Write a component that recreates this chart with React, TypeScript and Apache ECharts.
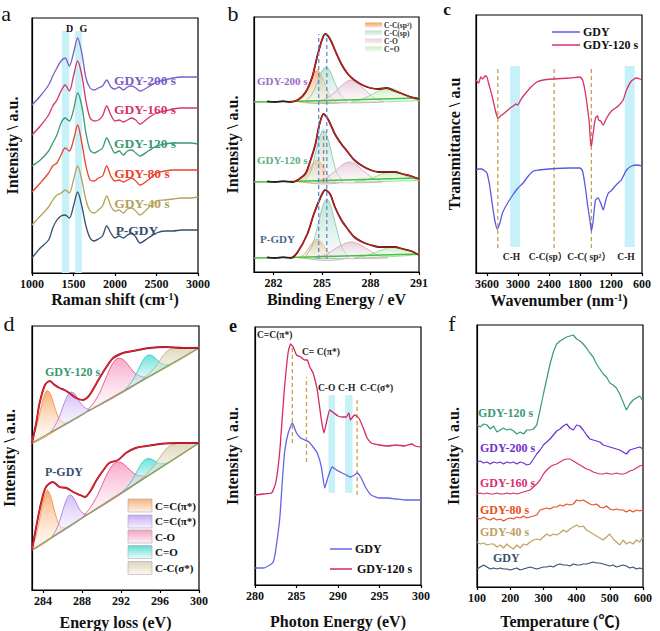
import React, { useEffect, useRef } from "react";
import * as echarts from "echarts";

const FONT = '"Liberation Serif", "Times New Roman", "Noto Sans CJK SC", serif';

// ---------------- Panel a : Raman ----------------
const ramanShift = [1000, 1100, 1200, 1250, 1300, 1350, 1400, 1450, 1500, 1550, 1600, 1650, 1700, 1750, 1800, 1850, 1900, 1950, 2000, 2050, 2100, 2150, 2200, 2250, 2300, 2400, 2500, 2600, 2700, 2800, 2900, 3000];
const ramanPGDY = [15, 25, 33, 45, 53, 57, 58, 55, 67, 81, 67, 47, 35, 32, 34, 37, 47, 40, 35, 37, 35, 38, 40, 36, 30, 35, 40, 42, 42, 43, 43, 43];
const raman40 = [48, 57, 66, 73, 78, 80, 83, 80, 93, 107, 93, 73, 62, 60, 63, 67, 77, 67, 62, 63, 60, 64, 65, 62, 58, 65, 72, 73, 74, 75, 75, 76];
const raman80 = [81, 90, 100, 107, 110, 118, 125, 122, 133, 148, 130, 107, 93, 92, 95, 97, 107, 97, 92, 93, 91, 93, 95, 92, 88, 93, 100, 102, 103, 103, 103, 103];
const raman120 = [107, 113, 122, 130, 138, 150, 155, 152, 163, 180, 167, 140, 123, 120, 122, 125, 135, 127, 120, 122, 118, 122, 123, 120, 117, 122, 127, 129, 130, 130, 130, 129];
const raman160 = [138, 147, 158, 167, 173, 182, 188, 182, 197, 212, 198, 172, 155, 152, 153, 157, 167, 158, 152, 153, 151, 153, 155, 153, 149, 155, 160, 162, 164, 165, 165, 165];
const raman200 = [168, 177, 188, 197, 205, 212, 215, 207, 220, 235, 220, 195, 185, 183, 185, 187, 193, 186, 184, 186, 183, 186, 187, 185, 182, 186, 191, 193, 195, 196, 196, 196];
const ramanBands = [[1360, 1450, 0, 242], [1520, 1600, 0, 242]];
const ramanTicks = [1000, 1500, 2000, 2500, 3000];

// ---------------- Panel b : XPS C1s ----------------
const bTicks = [282, 285, 288, 291];
const bOffsets = [170, 90, 14];
const bSp2 = [
  [[283.57, 0], [283.9, 6], [284.25, 20], [284.48, 28], [284.7, 32], [284.92, 28], [285.15, 20], [285.5, 6], [285.83, 0]],
  [[283.57, 0], [283.9, 4], [284.25, 13.4], [284.48, 19.4], [284.7, 22], [284.92, 19.4], [285.15, 13.4], [285.5, 4], [285.83, 0]],
  [[283.57, 0], [283.9, 3.6], [284.25, 11.6], [284.48, 16.7], [284.7, 19], [284.92, 16.7], [285.15, 11.6], [285.5, 3.6], [285.83, 0]],
];
const bSp = [
  [[284.0, 0], [284.35, 7], [284.75, 21], [285.0, 31], [285.25, 35], [285.5, 31], [285.75, 21], [286.15, 7], [286.5, 0]],
  [[283.97, 0], [284.3, 10], [284.65, 32], [284.88, 46], [285.1, 52], [285.32, 46], [285.55, 32], [285.9, 10], [286.23, 0]],
  [[284.05, 0], [284.4, 12], [284.8, 36], [285.05, 52], [285.3, 59], [285.55, 52], [285.8, 36], [286.2, 12], [286.55, 0]],
];
const bCO = [
  [[284.8, 0], [285.36, 4], [286.0, 13], [286.4, 19], [286.8, 22], [287.2, 19], [287.6, 13], [288.24, 4], [288.8, 0]],
  [[284.7, 0], [285.26, 4], [285.9, 12], [286.3, 17.6], [286.7, 20], [287.1, 17.6], [287.5, 12], [288.14, 4], [288.7, 0]],
  [[284.55, 0], [285.2, 3], [285.9, 10], [286.35, 14], [286.8, 16], [287.25, 14], [287.7, 10], [288.4, 3], [289.05, 0]],
];
const bCdO = [
  [[286.85, 0], [287.5, 3], [288.2, 8.5], [288.65, 12.3], [289.1, 14], [289.55, 12.3], [290.0, 8.5], [290.7, 3], [291, 1.5]],
  [[287.05, 0], [287.7, 2], [288.4, 6], [288.85, 8.8], [289.3, 10], [289.75, 8.8], [290.2, 6], [290.9, 2], [291, 1.6]],
  [[287.0, 0], [287.7, 2.2], [288.5, 6.7], [289.0, 9.7], [289.5, 11], [290.0, 9.7], [290.5, 6.7], [291, 3.5]],
];
const bEnv = [
  [[283.0, 0], [283.5, 2], [284.0, 10], [284.4, 25], [284.7, 45], [285.0, 62], [285.2, 68], [285.5, 63], [285.8, 52], [286.2, 38], [286.6, 28], [287.0, 22], [287.5, 17], [288.0, 14], [288.5, 13], [289.0, 14], [289.5, 11], [290.0, 8], [290.5, 5], [291, 3]],
  [[283.2, 0], [283.6, 3], [284.0, 9], [284.3, 22], [284.6, 38], [284.85, 58], [285.1, 68], [285.4, 62], [285.8, 48], [286.2, 38], [286.5, 32], [287.0, 22], [287.5, 16], [288.0, 12], [288.5, 10], [289.0, 10], [289.5, 10], [290.0, 8], [290.5, 6], [291, 3]],
  [[283.1, 0], [283.5, 6], [284.1, 24], [284.5, 44], [284.9, 60], [285.2, 68], [285.5, 64], [285.8, 51], [286.2, 38], [286.5, 31], [287.0, 21], [287.5, 16], [288.0, 13], [288.5, 11], [289.0, 11], [289.5, 11], [290.0, 9], [290.5, 7], [291, 3]],
];
const bRawLead = [[281.6, 0.6], [282.1, 0], [282.6, 0.8]];
const bBase = [[280.8, 0], [283.0, 0.5], [291, 4]];
const bDashBlue = [[284.8, 13, 238], [285.3, 13, 238]];
const bDashRed = [[285.1, 90, 140]];

// ---------------- Panel c : FTIR ----------------
const cTicks = [3600, 3000, 2400, 1800, 1200, 600];
const irGDY120 = [[3810, 193], [3760, 190], [3720, 196], [3680, 194], [3640, 197], [3600, 196], [3570, 190], [3500, 177], [3440, 163], [3400, 156], [3375, 155], [3340, 157], [3310, 158], [3215, 162], [3150, 165], [3090, 167], [3040, 169], [3010, 168], [2925, 175], [2765, 185], [2635, 191], [2510, 193], [2315, 194], [1995, 195], [1800, 196], [1750, 193], [1705, 183], [1660, 167], [1620, 150], [1590, 127], [1575, 128], [1545, 140], [1500, 155], [1460, 157], [1440, 153], [1400, 152], [1350, 148], [1285, 155], [1190, 162], [1060, 167], [965, 173], [900, 183], [805, 192], [710, 195], [640, 194], [600, 193]];
const irGDY = [[3810, 103], [3760, 104], [3700, 104], [3640, 102], [3600, 100], [3550, 88], [3500, 70], [3450, 53], [3400, 44], [3350, 50], [3300, 60], [3200, 70], [3100, 78], [3000, 85], [2900, 90], [2800, 97], [2700, 102], [2600, 103], [2400, 104], [2000, 105], [1800, 105], [1750, 102], [1700, 87], [1650, 67], [1600, 50], [1580, 42], [1550, 50], [1500, 73], [1450, 75], [1400, 70], [1350, 63], [1300, 73], [1250, 80], [1200, 82], [1100, 88], [1000, 93], [900, 103], [800, 107], [700, 108], [600, 107]];
const irDash = [[3390, 25, 205], [2300, 25, 205], [1580, 25, 205]];
const irBands = [[2960, 3150, 26, 207], [740, 935, 26, 207]];

// ---------------- Panel d : EELS ----------------
const dTicks = [284, 288, 292, 296, 300];
const dBase1 = [[282.87, 147], [300, 242]];
const dEnv1 = [[282.87, 147], [283.3, 167], [283.65, 187], [284.2, 205], [284.7, 209], [285.2, 205], [285.7, 202], [286.2, 200], [286.7, 197], [287.4, 192], [288.1, 190], [288.6, 193], [289.1, 200], [289.8, 212], [290.5, 223], [291.2, 232], [292.2, 237], [293.2, 239], [294.9, 242], [296.6, 243], [298.4, 242], [300, 242]];
const dOrange1 = [[282.87, 147], [283.3, 162.2], [283.7, 178.3], [284.05, 192.3], [284.4, 199.5], [284.75, 196.2], [285.1, 186.1], [285.45, 175.5], [285.8, 169.2], [286.15, 167], [286.5, 167.1]];
const dPurple1 = [[284.8, 157.7], [285.2, 163.8], [285.6, 171.5], [286.0, 182], [286.4, 192.2], [286.8, 197.8], [287.2, 196.6], [287.6, 190.8], [288.0, 184.9], [288.4, 181.6], [288.8, 179.9]];
const dCO1 = [[288.6, 178.8], [289.2, 187.1], [289.8, 197], [290.4, 210.8], [291.0, 223.9], [291.6, 231.4], [292.2, 230.5], [292.8, 224.1], [293.4, 217], [294.0, 213.7], [294.6, 212.1]];
const dCdO1 = [[292.45, 200.1], [292.9, 205.6], [293.35, 212.1], [293.8, 221], [294.25, 229.5], [294.7, 234.6], [295.15, 234.5], [295.6, 231], [296.05, 227.1], [296.5, 225.6], [296.95, 225.1]];
const dSig1 = [[294.0, 208.7], [295.0, 217.3], [295.8, 226.7], [296.5, 236.6], [297.2, 241.5], [298.0, 242], [299.0, 242.5], [300, 242]];
const dBase2 = [[282.87, 40], [300, 147]];
const dEnv2 = [[282.87, 40], [283.3, 63], [283.8, 87], [284.3, 103], [285.0, 108], [285.7, 103], [286.4, 102], [287.1, 98], [287.8, 95], [288.3, 93], [288.8, 98], [289.5, 110], [290.2, 120], [290.8, 127], [291.7, 130], [292.5, 137], [293.5, 142], [294.6, 144], [296.0, 146], [297.7, 147], [300, 147]];
const dOrange2 = [[282.87, 40], [283.25, 52.8], [283.6, 68.1], [283.95, 86.2], [284.4, 99.6], [284.75, 94.8], [285.1, 82], [285.45, 70.1], [285.8, 63.4], [286.2, 61.9], [286.5, 62.8]];
const dPurple2 = [[284.95, 53], [285.3, 59.4], [285.65, 67.4], [286.0, 78.4], [286.35, 89], [286.7, 94.9], [287.05, 93.4], [287.4, 87.2], [287.75, 80.5], [288.1, 76.9], [288.45, 74.9]];
const dCO2 = [[288.15, 73], [288.8, 81.6], [289.45, 92.1], [290.1, 105.9], [290.75, 119.2], [291.4, 127.3], [292.05, 127.3], [292.7, 122.1], [293.35, 116.5], [294.0, 114.1], [294.65, 113.6]];
const dCdO2 = [[292.25, 98.6], [292.7, 103.9], [293.15, 110], [293.6, 118], [294.05, 125.6], [294.5, 130.6], [294.95, 131.3], [295.4, 129.3], [295.85, 126.9], [296.3, 126.4], [296.75, 126.7]];
const dSig2 = [[293.5, 106.4], [294.5, 114.6], [295.5, 125.9], [296.3, 136.9], [297.0, 144.2], [297.8, 146.5], [298.7, 147.5], [299.4, 147], [300, 147]];

// ---------------- Panel e : NEXAFS ----------------
const eTicks = [280, 285, 290, 295, 300];
const eGDY120 = [[280, 90], [281, 91], [282, 92], [282.5, 102], [283, 135], [283.5, 192], [284, 233], [284.3, 241], [284.6, 238], [285, 230], [285.5, 228], [286, 225], [286.3, 225], [286.6, 218], [287, 212], [287.5, 195], [288, 165], [288.3, 152], [288.6, 162], [289, 175], [289.5, 172], [290, 169], [290.5, 168], [291, 168], [291.3, 172], [291.5, 165], [292, 170], [292.5, 167], [293, 158], [293.5, 147], [294, 142], [295, 140], [296, 139], [297, 140], [298, 139], [298.9, 141], [299.3, 139], [300, 138]];
const eGDY = [[280, 17], [281, 17], [281.8, 20], [282.2, 23], [282.5, 35], [283, 68], [283.3, 105], [283.6, 135], [284, 152], [284.5, 162], [285, 152], [285.5, 147], [286, 145], [286.5, 143], [287, 138], [287.5, 132], [288, 118], [288.4, 97], [288.8, 108], [289.3, 118], [289.8, 115], [290.5, 112], [291, 110], [291.5, 108], [292, 110], [292.3, 112], [292.8, 107], [293.3, 98], [294, 90], [295, 87], [296, 87], [297, 86], [298, 85], [299, 85], [300, 85]];
const eDash = [[284.5, 142, 238], [286.2, 123, 208], [292.3, 90, 188]];
const eBands = [[288.85, 289.65, 92, 190], [290.85, 291.75, 92, 190]];

// ---------------- Panel f : TPD ----------------
const fTicks = [100, 200, 300, 400, 500, 600];
const fTemp = [100, 110, 120, 130, 140, 150, 160, 170, 180, 190, 200, 210, 220, 230, 240, 250, 260, 270, 280, 290, 300, 310, 320, 330, 340, 350, 360, 370, 380, 390, 400, 410, 420, 430, 440, 450, 460, 470, 480, 490, 500, 510, 520, 530, 540, 550, 560, 570, 580, 590, 600];
const fGDY120 = [162, 160, 163, 162, 158, 161, 155, 157, 159, 157, 158, 156, 153, 155, 153, 157, 157, 158, 162, 177, 193, 208, 223, 235, 243, 246, 248, 250, 251, 252, 248, 246, 243, 239, 234, 230, 223, 218, 213, 210, 204, 202, 199, 193, 185, 177, 183, 187, 189, 191, 186];
const fGDY200 = [125, 126, 124, 125, 123, 125, 124, 125, 123, 125, 124, 125, 123, 125, 124, 122, 123, 128, 133, 137, 142, 145, 148, 152, 156, 158, 161, 163, 159, 157, 162, 161, 157, 152, 148, 147, 146, 145, 142, 141, 140, 139, 138, 137, 135, 133, 137, 138, 139, 140, 138];
const fGDY160 = [93, 94, 93, 94, 93, 93, 94, 93, 93, 94, 93, 94, 93, 94, 95, 96, 97, 100, 103, 107, 113, 117, 120, 122, 123, 125, 127, 128, 128, 126, 124, 122, 120, 118, 117, 115, 114, 113, 113, 114, 113, 113, 114, 113, 113, 114, 116, 117, 119, 121, 122];
const fGDY80 = [69, 68, 70, 68, 67, 69, 67, 68, 66, 68, 69, 68, 70, 69, 71, 69, 70, 71, 72, 77, 78, 79, 78, 80, 80, 82, 81, 83, 82, 83, 87, 86, 87, 85, 83, 82, 83, 80, 79, 81, 78, 77, 78, 77, 77, 75, 77, 75, 77, 76, 77];
const fGDY40 = [45, 43, 44, 42, 43, 43, 40, 42, 39, 43, 40, 38, 42, 39, 43, 42, 45, 47, 48, 47, 50, 53, 51, 53, 52, 54, 57, 55, 58, 60, 62, 60, 61, 57, 55, 53, 51, 49, 47, 50, 53, 48, 45, 42, 47, 43, 45, 43, 47, 45, 50];
const fGDY = [18, 20, 22, 20, 18, 19, 18, 19, 18, 18, 17, 18, 19, 17, 18, 19, 20, 19, 18, 19, 20, 20, 21, 20, 22, 23, 22, 22, 21, 23, 22, 22, 23, 23, 24, 25, 24, 24, 23, 22, 21, 22, 20, 21, 22, 21, 19, 20, 18, 19, 18];

// ---------------- layout (pixels) ----------------
const GRIDS = [
  { left: 32, top: 18, width: 166, height: 255 },
  { left: 254, top: 17, width: 165, height: 255 },
  { left: 476, top: 15, width: 166, height: 258 },
  { left: 32, top: 326, width: 167, height: 264 },
  { left: 255, top: 327, width: 166, height: 258 },
  { left: 477, top: 325, width: 166, height: 262 },
];

const axisText = { fontFamily: FONT, fontWeight: "bold", color: "#111" };
const supRich = { s: { fontFamily: FONT, fontWeight: "bold", fontSize: 10, color: "#111", verticalAlign: "top", lineHeight: 16 } };

function xAxis(gi: number, min: number, max: number, name: string, nameGap: number, ticks: number[], inverse = false) {
  return {
    type: "value", gridIndex: gi, min, max, inverse, name, nameLocation: "middle", nameGap,
    nameTextStyle: { ...axisText, fontSize: 16, rich: supRich },
    axisLine: { show: true, onZero: false, lineStyle: { color: "#000", width: 1.2 } },
    axisTick: { show: true, customValues: ticks, length: 3, inside: false, lineStyle: { color: "#000", width: 1.2 } },
    axisLabel: { show: true, customValues: ticks, ...axisText, fontSize: 12, margin: 5, formatter: (v: number) => String(v) },
    splitLine: { show: false },
  };
}
function yAxis(gi: number, max: number, name: string, nameGap: number) {
  return {
    type: "value", gridIndex: gi, min: 0, max, name, nameLocation: "middle", nameGap, nameRotate: 90,
    nameTextStyle: { ...axisText, fontSize: 16 },
    axisLine: { show: true, onZero: false, lineStyle: { color: "#000", width: 1.2 } },
    axisTick: { show: false }, axisLabel: { show: false }, splitLine: { show: false },
  };
}
function line(gi: number, data: any[], color: string, width: number, extra: any = {}) {
  const { dashed, ...rest } = extra;
  return {
    type: "line", xAxisIndex: gi, yAxisIndex: gi, data, symbol: "none", showSymbol: false, silent: true, z: 3,
    lineStyle: { color, width, type: dashed ? [4, 3] : "solid" }, itemStyle: { color }, ...rest,
  };
}
function bands(gi: number, data: number[][], color: string) {
  return {
    type: "custom", xAxisIndex: gi, yAxisIndex: gi, data, encode: { x: [0, 1], y: [2, 3] }, silent: true, z: 1,
    renderItem: (p: any, api: any) => {
      const a = api.coord([api.value(0), api.value(3)]);
      const b = api.coord([api.value(1), api.value(2)]);
      return { type: "rect", shape: { x: Math.min(a[0], b[0]), y: Math.min(a[1], b[1]), width: Math.abs(b[0] - a[0]), height: Math.abs(b[1] - a[1]) }, style: { fill: color } };
    },
  };
}
function poly(gi: number, data: number[][], top: string, bottom: string, stroke: string) {
  return {
    type: "custom", xAxisIndex: gi, yAxisIndex: gi, data, encode: { x: 0, y: 1 }, silent: true, z: 2,
    renderItem: (p: any, api: any) => {
      if (p.dataIndexInside !== 0) return null;
      const points: number[][] = [];
      for (let i = 0; i < p.dataInsideLength; i++) points.push(api.coord([api.value(0, i), api.value(1, i)]));
      return {
        type: "polygon", shape: { points, smooth: 0.35 },
        style: { fill: new echarts.graphic.LinearGradient(0, 0, 0, 1, [{ offset: 0, color: top }, { offset: 1, color: bottom }]), stroke, lineWidth: 0.8 },
      };
    },
  };
}
function vlines(gi: number, rows: number[][], color: string) {
  return rows.map(([x, y0, y1]) => line(gi, [[x, y0], [x, y1]], color, 1.3, { dashed: true }));
}
function T(x: number, y: number, text: string, size: number, color = "#111", align = "left", weight = "bold") {
  return {
    type: "text", x, y, silent: true, z: 50,
    style: { text, fill: color, fontSize: size, fontWeight: weight, fontFamily: FONT, align, verticalAlign: "middle", textAlign: align, textVerticalAlign: "middle" },
  };
}
function L(x1: number, y1: number, x2: number, y2: number, color: string, w = 1.5) {
  return { type: "line", silent: true, z: 50, shape: { x1, y1, x2, y2 }, style: { stroke: color, lineWidth: w } };
}
function patch(x: number, y: number, w: number, h: number, top: string, bottom: string, stroke = "none") {
  return {
    type: "rect", silent: true, z: 50, shape: { x, y, width: w, height: h },
    style: { fill: new echarts.graphic.LinearGradient(0, 0, 0, 1, [{ offset: 0, color: top }, { offset: 1, color: bottom }]), stroke, lineWidth: 0.6 },
  };
}
const pair = (xs: number[], ys: number[]) => xs.map((x, i) => [x, ys[i]]);
const shift = (pts: number[][], off: number) => pts.map(([x, y]) => [x, y + off]);

function buildOption() {
  const series: any[] = [];
  // a
  series.push(bands(0, ramanBands, "#c6f1f8"));
  const ramanSets: [number[], string][] = [[ramanPGDY, "#34506e"], [raman40, "#b5a15a"], [raman80, "#e8452c"], [raman120, "#3a9a70"], [raman160, "#d6336c"], [raman200, "#7b5ec6"]];
  ramanSets.forEach(([ys, c]) => series.push(line(0, pair(ramanShift, ys), c, 1.3, { smooth: 0.3 })));

  // b
  bOffsets.forEach((off, s) => {
    series.push(poly(1, shift(bSp2[s], off), "rgba(247,160,90,0.8)", "rgba(253,232,210,0.3)", "#f0a050"));
    series.push(poly(1, shift(bSp[s], off), "rgba(150,210,190,0.65)", "rgba(230,245,240,0.3)", "#7cc4ac"));
    series.push(poly(1, shift(bCO[s], off), "rgba(220,180,200,0.65)", "rgba(248,235,240,0.3)", "#d0a0b8"));
    series.push(poly(1, shift(bCdO[s], off), "rgba(170,230,160,0.65)", "rgba(235,250,232,0.3)", "#8ad882"));
    series.push(line(1, shift(bBase, off), "#44c044", 1.6));
    series.push(line(1, shift([...bRawLead, ...bEnv[s]], off), "#222", 1.8, { smooth: 0.3 }));
    series.push(line(1, shift(bEnv[s], off), "#e01818", 1.2, { smooth: 0.3 }));
  });
  series.push(...vlines(1, bDashBlue, "#5a8ec8"));
  series.push(...vlines(1, bDashRed, "#e06060"));

  // c
  series.push(bands(2, irBands, "#c6f1f8"));
  series.push(...vlines(2, irDash, "#c8a050"));
  series.push(line(2, irGDY, "#5a5ae0", 1.3, { smooth: 0.2 }));
  series.push(line(2, irGDY120, "#d83068", 1.3, { smooth: 0.2 }));

  // d
  const dSets = [
    { base: dBase1, env: dEnv1, comps: [dOrange1, dPurple1, dCO1, dCdO1, dSig1] },
    { base: dBase2, env: dEnv2, comps: [dOrange2, dPurple2, dCO2, dCdO2, dSig2] },
  ];
  const dStyles = [
    ["rgba(247,160,90,0.85)", "rgba(255,240,225,0.3)", "#f08a3c"],
    ["rgba(200,170,245,0.8)", "rgba(245,238,255,0.3)", "#a070e0"],
    ["rgba(245,140,185,0.75)", "rgba(255,235,245,0.3)", "#e8407e"],
    ["rgba(70,220,210,0.8)", "rgba(225,250,250,0.3)", "#20c8c0"],
    ["rgba(215,205,170,0.8)", "rgba(245,242,230,0.3)", "#b8a878"],
  ];
  dSets.forEach((set) => {
    set.comps.forEach((c, k) => series.push(poly(3, c, dStyles[k][0], dStyles[k][1], dStyles[k][2])));
    series.push(line(3, set.base, "#8aa05a", 1.4));
    series.push(line(3, set.env, "#8a1818", 1.9, { smooth: 0.3 }));
    series.push(line(3, set.env, "#e8203a", 1.2, { smooth: 0.3 }));
  });

  // e
  series.push(bands(4, eBands, "#c6f1f8"));
  series.push(...vlines(4, eDash, "#c8a050"));
  series.push(line(4, eGDY, "#6464e6", 1.3, { smooth: 0.15 }));
  series.push(line(4, eGDY120, "#d82860", 1.3, { smooth: 0.15 }));

  // f
  const fSets: [number[], string][] = [[fGDY, "#3a5070"], [fGDY40, "#c0a060"], [fGDY80, "#e85020"], [fGDY160, "#d83070"], [fGDY200, "#7030d0"], [fGDY120, "#3a9a70"]];
  fSets.forEach(([ys, c]) => series.push(line(5, pair(fTemp, ys), c, 1.2)));

  const graphic: any[] = [
    // panel letters
    T(6, 13, "a", 22, "#111", "center", "normal"),
    T(233, 13, "b", 22, "#111", "center", "normal"),
    T(447, 9, "c", 17, "#111", "center", "bold"),
    T(9, 323, "d", 22, "#111", "center", "normal"),
    T(233, 326, "e", 18, "#111", "center", "bold"),
    T(452, 323, "f", 22, "#111", "center", "normal"),
    // a
    T(66, 28, "D", 10), T(79.5, 28, "G", 10),
    T(145, 80, "GDY-200 s", 13.5, "#7b5ec6", "center"),
    T(145, 109, "GDY-160 s", 13.5, "#d6336c", "center"),
    T(145, 143, "GDY-120 s", 13.5, "#3a9a70", "center"),
    T(142, 173, "GDY-80 s", 13.5, "#e8452c", "center"),
    T(142, 203, "GDY-40 s", 13.5, "#b5a15a", "center"),
    T(137, 230, "P-GDY", 13.5, "#34506e", "center"),
    // b
    T(257, 81, "GDY-200 s", 11, "#9a6ac8"),
    T(257, 160, "GDY-120 s", 11, "#5ab080"),
    T(260, 239, "P-GDY", 11, "#4a6a8a"),
    patch(365, 22.5, 17, 5, "#f5a060", "#fde6d0"),
    patch(365, 30.5, 17, 5, "#b8e0d4", "#eef8f4"),
    patch(365, 38.5, 17, 5, "#ecd0dc", "#faf0f4"),
    patch(365, 46.5, 17, 5, "#c8f0c0", "#f0fcee"),
    T(384, 25, "C-C(sp²)", 7.5, "#333"),
    T(384, 33, "C-C(sp)", 7.5, "#333"),
    T(384, 41, "C-O", 7.5, "#333"),
    T(384, 49, "C=O", 7.5, "#333"),
    // c
    L(552, 32, 580, 32, "#5a5ae0"), T(583, 32, "GDY", 12),
    L(552, 45, 580, 45, "#d83068"), T(583, 45, "GDY-120 s", 12),
    T(511.5, 257, "C-H", 9.5, "#222", "center"),
    T(548, 257, "C-C(sp）", 9.5, "#222", "center"),
    T(589, 257, "C-C( sp²）", 9.5, "#222", "center"),
    T(626, 257, "C-H", 9.5, "#222", "center"),
    // d
    T(45, 372, "GDY-120 s", 12, "#3a9a70"),
    T(45, 472, "P-GDY", 12, "#34506e"),
    patch(128, 499, 24, 13, "#f7b27a", "#fff4ea", "#aaa"),
    patch(128, 515, 24, 13, "#c8a8f5", "#f7f2ff", "#aaa"),
    patch(128, 530, 24, 13, "#f5a0c4", "#fff2f8", "#aaa"),
    patch(128, 545.5, 24, 13, "#60dcd4", "#eafcfb", "#aaa"),
    patch(128, 561.5, 24, 13, "#ddd4bc", "#faf8f2", "#aaa"),
    T(155, 505.5, "C=C(π*)", 11),
    T(155, 521, "C=C(π*)", 11),
    T(155, 536.5, "C-O", 11),
    T(155, 552, "C=O", 11),
    T(155, 568, "C-C(σ*)", 11),
    // e
    T(257, 335, "C=C(π*)", 9.5, "#222"),
    T(302, 352, "C= C(π*)", 9.5, "#222"),
    T(318, 388, "C-O", 9.5, "#222"),
    T(338, 388, "C-H", 9.5, "#222"),
    T(360, 388, "C-C(σ*)", 9.5, "#222"),
    L(330, 549, 352, 549, "#6464e6"), T(355, 549, "GDY", 12),
    L(330, 569, 352, 569, "#d82860"), T(357, 569, "GDY-120 s", 12),
    // f
    T(478, 413, "GDY-120 s", 12, "#3a9a70"),
    T(480, 448, "GDY-200 s", 12, "#7030d0"),
    T(480, 483, "GDY-160 s", 12, "#d83070"),
    T(480, 510, "GDY-80 s", 12, "#e85020"),
    T(480, 532, "GDY-40 s", 12, "#c0a060"),
    T(493, 558, "GDY", 12, "#3a5070"),
  ];

  return {
    animation: false,
    backgroundColor: "#fff",
    grid: GRIDS.map((g) => ({ ...g, show: true, borderColor: "#000", borderWidth: 1.2, backgroundColor: "transparent", containLabel: false })),
    xAxis: [
      xAxis(0, 1000, 3000, "Raman shift (cm{s|-1})", 18, ramanTicks),
      xAxis(1, 280.8, 291, "Binding Energy / eV", 19, bTicks),
      xAxis(2, 600, 3812, "Wavenumber (nm{s|-1})", 19, cTicks, true),
      xAxis(3, 282.87, 300, "Energy loss (eV)", 24, dTicks),
      xAxis(4, 280, 300, "Photon Energy (eV)", 28, eTicks),
      xAxis(5, 100, 600, "Temperature (℃)", 26, fTicks),
    ],
    yAxis: [
      yAxis(0, 255, "Intensity \\ a.u.", 12),
      yAxis(1, 255, "Intensity \\ a.u.", 14),
      yAxis(2, 258, "Transmittance \\ a.u", 14),
      yAxis(3, 264, "Intensity \\ a.u.", 15),
      yAxis(4, 258, "Intensity \\ a.u.", 15),
      yAxis(5, 262, "Intensity \\ a.u.", 16),
    ],
    series,
    graphic,
  };
}

export default function App() {
  const ref = useRef<HTMLDivElement>(null);
  useEffect(() => {
    const chart = echarts.init(ref.current!, null, { renderer: "svg" });
    chart.setOption(buildOption() as any);
    return () => chart.dispose();
  }, []);
  return <div ref={ref} style={{ position: "fixed", left: 0, top: 0, width: 660, height: 631, background: "#fff" }} />;
}
